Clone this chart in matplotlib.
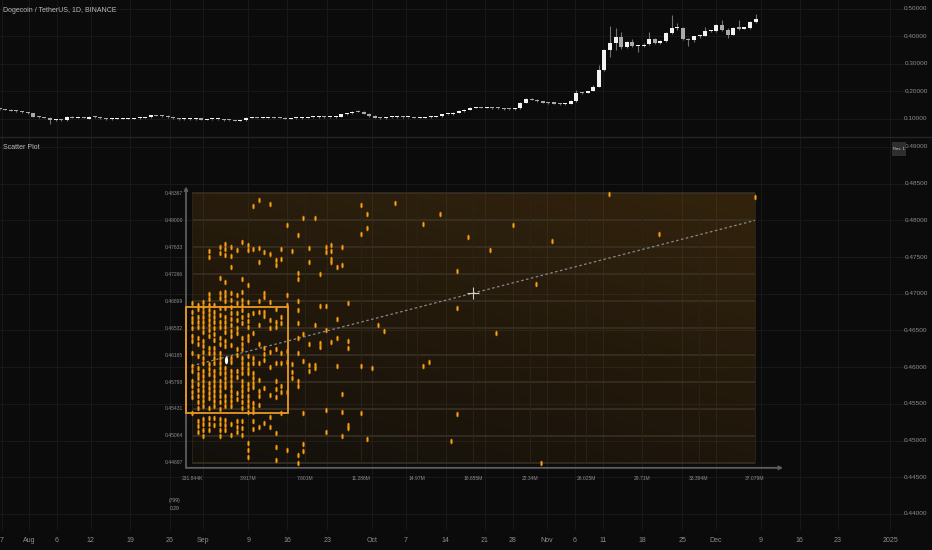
import numpy as np
import matplotlib
matplotlib.use("Agg")
import matplotlib.pyplot as plt  # noqa: E402
from matplotlib.lines import Line2D  # noqa: E402
from matplotlib.patches import Rectangle  # noqa: E402
from matplotlib.path import Path  # noqa: E402
from matplotlib.transforms import Affine2D, blended_transform_factory  # noqa: E402

plt.rcParams["font.family"] = ["Liberation Sans Narrow", "Liberation Sans", "DejaVu Sans"]

BG = "#0b0b0b"
GRID = "#181818"
TXT = "#8e8e8e"
UP = "#f2f2f2"
DOWN = "#a9a9a9"
WICK = "#707070"
ORANGE = "#f5a11c"

# ---- daily candles (DOGE/USDT 1D), bar 0 = first visible day --------------
c_open = [0.136, 0.135, 0.133, 0.130, 0.128, 0.125, 0.121, 0.109, 0.107, 0.105,
          0.095, 0.097, 0.095, 0.108, 0.105, 0.106, 0.101, 0.108, 0.106, 0.102,
          0.100, 0.101, 0.101, 0.101, 0.101, 0.102, 0.105, 0.106, 0.113, 0.112,
          0.111, 0.106, 0.102, 0.100, 0.100, 0.100, 0.102, 0.097, 0.099, 0.099,
          0.099, 0.096, 0.095, 0.094, 0.096, 0.105, 0.105, 0.104, 0.104, 0.106,
          0.105, 0.104, 0.101, 0.102, 0.102, 0.105, 0.106, 0.107, 0.108, 0.106,
          0.106, 0.108, 0.117, 0.120, 0.127, 0.126, 0.119, 0.111, 0.105, 0.102,
          0.106, 0.106, 0.108, 0.106, 0.106, 0.105, 0.105, 0.106, 0.108, 0.110,
          0.117, 0.117, 0.123, 0.129, 0.134, 0.141, 0.142, 0.141, 0.141, 0.140,
          0.139, 0.136, 0.135, 0.140, 0.159, 0.172, 0.170, 0.165, 0.159, 0.158,
          0.156, 0.153, 0.155, 0.166, 0.196, 0.195, 0.202, 0.217, 0.278, 0.351,
          0.377, 0.397, 0.361, 0.380, 0.365, 0.366, 0.371, 0.391, 0.378, 0.384,
          0.411, 0.430, 0.431, 0.392, 0.386, 0.400, 0.402, 0.420, 0.421, 0.440,
          0.425, 0.407, 0.432, 0.429, 0.431, 0.452]
c_close = [0.135, 0.133, 0.130, 0.128, 0.125, 0.121, 0.109, 0.107, 0.105, 0.095,
           0.097, 0.096, 0.108, 0.105, 0.106, 0.104, 0.108, 0.106, 0.102, 0.100,
           0.101, 0.101, 0.101, 0.101, 0.102, 0.105, 0.106, 0.113, 0.112, 0.111,
           0.106, 0.102, 0.100, 0.100, 0.100, 0.100, 0.097, 0.099, 0.099, 0.099,
           0.096, 0.095, 0.094, 0.096, 0.105, 0.105, 0.104, 0.104, 0.106, 0.105,
           0.104, 0.101, 0.102, 0.102, 0.105, 0.106, 0.107, 0.108, 0.106, 0.106,
           0.108, 0.117, 0.120, 0.127, 0.126, 0.119, 0.111, 0.105, 0.102, 0.106,
           0.106, 0.108, 0.106, 0.106, 0.105, 0.105, 0.106, 0.108, 0.110, 0.117,
           0.117, 0.123, 0.129, 0.134, 0.141, 0.142, 0.141, 0.141, 0.140, 0.139,
           0.136, 0.135, 0.139, 0.159, 0.172, 0.170, 0.165, 0.159, 0.158, 0.156,
           0.153, 0.155, 0.166, 0.196, 0.195, 0.200, 0.217, 0.278, 0.351, 0.377,
           0.397, 0.360, 0.380, 0.365, 0.366, 0.370, 0.391, 0.378, 0.383, 0.411,
           0.430, 0.431, 0.392, 0.386, 0.400, 0.402, 0.420, 0.421, 0.440, 0.425,
           0.407, 0.432, 0.429, 0.431, 0.452, 0.462]
c_high = [0.138, 0.137, 0.135, 0.132, 0.130, 0.127, 0.123, 0.111, 0.109, 0.106,
          0.099, 0.099, 0.110, 0.110, 0.108, 0.108, 0.110, 0.110, 0.108, 0.104,
          0.103, 0.103, 0.103, 0.103, 0.104, 0.107, 0.108, 0.115, 0.115, 0.114,
          0.113, 0.108, 0.104, 0.102, 0.102, 0.102, 0.104, 0.101, 0.101, 0.101,
          0.101, 0.098, 0.097, 0.098, 0.107, 0.107, 0.107, 0.106, 0.108, 0.108,
          0.107, 0.106, 0.104, 0.104, 0.107, 0.108, 0.109, 0.110, 0.110, 0.108,
          0.110, 0.119, 0.122, 0.129, 0.131, 0.128, 0.121, 0.113, 0.107, 0.108,
          0.108, 0.110, 0.110, 0.108, 0.108, 0.107, 0.108, 0.110, 0.112, 0.119,
          0.119, 0.125, 0.131, 0.136, 0.143, 0.145, 0.144, 0.143, 0.143, 0.142,
          0.141, 0.138, 0.141, 0.161, 0.175, 0.175, 0.172, 0.167, 0.161, 0.160,
          0.158, 0.157, 0.168, 0.205, 0.199, 0.203, 0.222, 0.296, 0.355, 0.438,
          0.432, 0.416, 0.385, 0.390, 0.370, 0.375, 0.418, 0.395, 0.387, 0.416,
          0.478, 0.450, 0.435, 0.395, 0.403, 0.405, 0.435, 0.425, 0.446, 0.460,
          0.430, 0.436, 0.460, 0.435, 0.458, 0.482]
c_low = [0.133, 0.131, 0.128, 0.126, 0.123, 0.119, 0.107, 0.105, 0.103, 0.082,
         0.093, 0.094, 0.094, 0.103, 0.103, 0.102, 0.099, 0.104, 0.100, 0.098,
         0.098, 0.099, 0.099, 0.099, 0.099, 0.100, 0.103, 0.104, 0.110, 0.109,
         0.104, 0.100, 0.098, 0.098, 0.098, 0.098, 0.095, 0.095, 0.097, 0.097,
         0.094, 0.093, 0.092, 0.092, 0.094, 0.103, 0.102, 0.102, 0.102, 0.103,
         0.102, 0.099, 0.099, 0.100, 0.100, 0.103, 0.104, 0.105, 0.104, 0.104,
         0.104, 0.106, 0.115, 0.118, 0.124, 0.117, 0.109, 0.103, 0.100, 0.100,
         0.104, 0.104, 0.104, 0.104, 0.103, 0.103, 0.103, 0.104, 0.106, 0.108,
         0.115, 0.115, 0.121, 0.127, 0.132, 0.139, 0.139, 0.139, 0.138, 0.137,
         0.134, 0.133, 0.133, 0.138, 0.157, 0.168, 0.163, 0.157, 0.156, 0.154,
         0.151, 0.151, 0.153, 0.163, 0.192, 0.193, 0.200, 0.215, 0.275, 0.327,
         0.352, 0.355, 0.358, 0.360, 0.345, 0.362, 0.368, 0.372, 0.374, 0.380,
         0.408, 0.425, 0.388, 0.365, 0.380, 0.395, 0.400, 0.417, 0.418, 0.420,
         0.393, 0.404, 0.425, 0.426, 0.428, 0.449]

top_price_ticks = [0.1, 0.2, 0.3, 0.4, 0.5]
low_price_ticks = [0.44, 0.445, 0.45, 0.455, 0.46, 0.465, 0.47, 0.475, 0.48, 0.485, 0.49]

# time axis labels, position in bars
date_pos = [0.38, 5.25, 10.2, 16.27, 23.29, 30.43, 36.37, 44.41, 51.38, 58.55,
            66.55, 72.57, 79.66, 86.68, 91.63, 97.7, 102.75, 107.8, 114.8, 121.9,
            127.9, 135.96, 142.9, 149.7, 159.0]
date_labels = ["7", "Aug", "6", "12", "19", "26", "Sep", "9", "16", "23",
               "Oct", "7", "14", "21", "28", "Nov", "6", "11", "18", "25",
               "Dec", "9", "16", "23", "2025"]

# ---- scatter: volume (millions) vs price --------------------------------
col_vol = [0.23, 0.60, 0.96, 1.33, 1.69, 2.05, 2.42, 2.78, 3.15, 3.51,
           3.88, 4.24, 4.61, 4.97, 5.33, 5.70, 6.06, 6.43, 6.79, 7.16,
           7.52, 7.89, 8.25, 8.62, 8.98, 9.34, 9.71, 10.07, 10.44]
col_prices = [
    [0.4687, 0.4675, 0.4667, 0.4662, 0.4653, 0.4643, 0.4636, 0.4619, 0.4602, 0.4595,
     0.4581, 0.4574, 0.4566, 0.4559, 0.4538],
    [0.4685, 0.4679, 0.4668, 0.4662, 0.4655, 0.4640, 0.4632, 0.4615, 0.4599, 0.4591,
     0.4585, 0.4577, 0.4569, 0.4561, 0.4553, 0.4544, 0.4527, 0.4520, 0.4512],
    [0.4689, 0.4682, 0.4675, 0.4668, 0.4662, 0.4655, 0.4648, 0.4636, 0.4629, 0.4621,
     0.4613, 0.4606, 0.4595, 0.4588, 0.4581, 0.4574, 0.4568, 0.4561, 0.4554, 0.4547,
     0.4529, 0.4523, 0.4514, 0.4506],
    [0.4758, 0.4750, 0.4700, 0.4693, 0.4685, 0.4678, 0.4671, 0.4664, 0.4657, 0.4651,
     0.4643, 0.4626, 0.4619, 0.4604, 0.4598, 0.4591, 0.4578, 0.4572, 0.4565, 0.4558,
     0.4544, 0.4531, 0.4523, 0.4514],
    [0.4685, 0.4675, 0.4668, 0.4662, 0.4653, 0.4645, 0.4637, 0.4626, 0.4619, 0.4613,
     0.4606, 0.4595, 0.4588, 0.4581, 0.4574, 0.4568, 0.4561, 0.4554, 0.4547, 0.4531,
     0.4521],
    [0.4764, 0.4756, 0.4722, 0.4701, 0.4694, 0.4681, 0.4671, 0.4662, 0.4655, 0.4640,
     0.4632, 0.4619, 0.4613, 0.4606, 0.4599, 0.4592, 0.4581, 0.4574, 0.4568, 0.4561,
     0.4553, 0.4543, 0.4529, 0.4523, 0.4514, 0.4506],
    [0.4768, 0.4761, 0.4753, 0.4716, 0.4702, 0.4697, 0.4690, 0.4681, 0.4668, 0.4662,
     0.4655, 0.4648, 0.4636, 0.4629, 0.4599, 0.4592, 0.4585, 0.4578, 0.4573, 0.4561,
     0.4554, 0.4547, 0.4528, 0.4521, 0.4514],
    [0.4764, 0.4751, 0.4737, 0.4701, 0.4692, 0.4682, 0.4674, 0.4666, 0.4657, 0.4649,
     0.4643, 0.4630, 0.4613, 0.4607, 0.4595, 0.4588, 0.4581, 0.4574, 0.4568, 0.4561,
     0.4554, 0.4547, 0.4523, 0.4508],
    [0.4760, 0.4698, 0.4687, 0.4674, 0.4664, 0.4653, 0.4647, 0.4625, 0.4617, 0.4595,
     0.4587, 0.4565, 0.4557, 0.4527, 0.4519, 0.4512],
    [0.4771, 0.4720, 0.4702, 0.4692, 0.4685, 0.4678, 0.4668, 0.4660, 0.4640, 0.4632,
     0.4625, 0.4613, 0.4606, 0.4599, 0.4592, 0.4581, 0.4574, 0.4568, 0.4561, 0.4553,
     0.4544, 0.4527, 0.4517, 0.4508],
    [0.4766, 0.4760, 0.4712, 0.4689, 0.4671, 0.4663, 0.4655, 0.4643, 0.4637, 0.4615,
     0.4604, 0.4598, 0.4592, 0.4577, 0.4570, 0.4561, 0.4554, 0.4547, 0.4539, 0.4497,
     0.4487, 0.4478],
    [0.4820, 0.4761, 0.4674, 0.4647, 0.4613, 0.4606, 0.4592, 0.4585, 0.4578, 0.4573,
     0.4551, 0.4545, 0.4539, 0.4527, 0.4516],
    [0.4828, 0.4762, 0.4743, 0.4690, 0.4675, 0.4657, 0.4632, 0.4606, 0.4583, 0.4568,
     0.4561, 0.4549, 0.4519],
    [0.4757, 0.4701, 0.4696, 0.4675, 0.4670, 0.4626, 0.4618, 0.4610, 0.4572, 0.4524],
    [0.4822, 0.4754, 0.4689, 0.4664, 0.4653, 0.4621, 0.4600, 0.4562, 0.4532, 0.4519],
    [0.4746, 0.4739, 0.4679, 0.4662, 0.4655, 0.4625, 0.4606, 0.4581, 0.4570, 0.4559,
     0.4510, 0.4491, 0.4474],
    [0.4761, 0.4747, 0.4668, 0.4660, 0.4619, 0.4606, 0.4574, 0.4566, 0.4538],
    [0.4794, 0.4698, 0.4685, 0.4622, 0.4607, 0.4566, 0.4487],
    [0.4758, 0.4604, 0.4593, 0.4585],
    [0.4780, 0.4728, 0.4720, 0.4690, 0.4678, 0.4660, 0.4640, 0.4619, 0.4581, 0.4574,
     0.4480, 0.4470],
    [0.4803, 0.4645, 0.4608, 0.4538, 0.4495, 0.4486],
    [0.4762, 0.4743, 0.4632, 0.4603, 0.4595],
    [0.4803, 0.4657, 0.4603, 0.4599],
    [0.4727, 0.4683, 0.4633, 0.4628],
    [0.4764, 0.4757, 0.4683, 0.4651, 0.4542, 0.4512],
    [0.4766, 0.4758, 0.4747, 0.4743, 0.4634],
    [0.4737, 0.4666, 0.4640, 0.4602],
    [0.4764, 0.4739, 0.4563, 0.4539, 0.4506],
    [0.4687, 0.4636, 0.4626, 0.4521, 0.4517],
]
lone_vol = [11.31, 11.31, 11.31, 11.31, 11.66, 11.66, 11.66, 12.03, 12.39, 12.78,
            13.52, 15.35, 15.35, 15.72, 16.44, 17.18, 17.56, 17.56, 17.56, 18.30,
            19.76, 20.13, 21.24, 22.73, 23.08, 23.81, 27.50, 30.82, 37.08]
lone_price = [0.4821, 0.4782, 0.4601, 0.4538, 0.4809, 0.4789, 0.4502, 0.4599, 0.4657, 0.4649,
              0.4824, 0.4795, 0.4601, 0.4607, 0.4809, 0.4499, 0.4731, 0.4681, 0.4536, 0.4777,
              0.4760, 0.4647, 0.4794, 0.4713, 0.4469, 0.4772, 0.4836, 0.4782, 0.4832]

vol_ticks = [0.231844, 3.917, 7.601, 11.286, 14.97, 18.655, 22.34, 26.025, 29.71, 33.394, 37.079]
vol_labels = ["231.844K", "3.917M", "7.601M", "11.286M", "14.97M", "18.655M",
              "22.34M", "26.025M", "29.71M", "33.394M", "37.079M"]
px_ticks = [0.44697, 0.45064, 0.45431, 0.45798, 0.46165, 0.46532,
            0.46899, 0.47266, 0.47633, 0.48000, 0.48367]

reg_vol = [0.231844, 37.079]
reg_price = [0.4602, 0.4800]
center_vol, center_price = 18.655, 0.4701
last_vol, last_price = 2.44, 0.4610
box_vol = (-0.16, 6.50)
box_price = (0.4538, 0.4682)
stat_lines = ["(799)", "0.29"]

# ---- layout (pixels of a 932x550 canvas) ----------------------------------
W, H = 932, 550
fig = plt.figure(figsize=(W / 100, H / 100), dpi=100, facecolor=BG)


def band(top_px, bottom_px):
    return [0, 1 - bottom_px / H, 1, (bottom_px - top_px) / H]


ax1 = fig.add_axes(band(0, 137))
ax2 = fig.add_axes(band(137, 530))
ax3 = fig.add_axes(band(137, 530))

for ax in (ax1, ax2, ax3):
    for s in ax.spines.values():
        s.set_visible(False)
    ax.tick_params(left=False, bottom=False, labelleft=False, labelbottom=False)
ax1.set_facecolor(BG)
ax2.set_facecolor(BG)
ax3.set_facecolor("none")

bar_lim = (0.07, 166.5)
ax1.set_xlim(*bar_lim)
ax1.set_ylim(0.0345, 0.5327)
ax2.set_xlim(*bar_lim)
ax2.set_ylim(0.43782, 0.49136)
ax3.set_xlim(-12.334, 48.663)
ax3.set_ylim(0.43782, 0.49136)

# pane grids + price scale
for ax, ticks in ((ax1, top_price_ticks), (ax2, low_price_ticks)):
    for d in date_pos:
        ax.axvline(d, color=GRID, lw=0.8, zorder=0)
    tr = blended_transform_factory(ax.transAxes, ax.transData)
    for p in ticks:
        ax.axhline(p, xmin=0, xmax=907 / W, color=GRID, lw=0.8, zorder=0)
        ax.text(916 / W, p, f"{p:.5f}", transform=tr, ha="center", va="center",
                fontsize=4.6, color=TXT)

# candles
o, hi, lo, c = (np.array(a) for a in (c_open, c_high, c_low, c_close))
idx = np.arange(len(c))
up = c >= o
ax1.vlines(idx, lo, hi, color=WICK, lw=0.8, zorder=2)
ax1.bar(idx, np.maximum(np.abs(c - o), 0.004), bottom=np.minimum(o, c), width=0.72,
        color=np.where(up, UP, DOWN), lw=0, zorder=3)

# date axis
ax2.set_xticks(date_pos)
ax2.set_xticklabels(date_labels)
ax2.tick_params(axis="x", labelbottom=True, length=0, pad=5.2, labelsize=5, labelcolor=TXT)

# ---- scatter panel ---------------------------------------------------------
v0, v1 = vol_ticks[0], vol_ticks[-1]
p0, p1 = px_ticks[0], px_ticks[-1]

ny, nx = 64, 64
ty = np.linspace(0, 1, ny)[:, None]
tx = np.linspace(0, 1, nx)[None, :]
grad = np.zeros((ny, nx, 4))
grad[..., 0], grad[..., 1], grad[..., 2] = 1.0, 0.62, 0.08
grad[..., 3] = 0.035 + 0.085 * ty + 0.045 * tx
ax3.imshow(grad, extent=[v0, v1, p0, p1], origin="lower", aspect="auto",
           interpolation="bilinear", zorder=0)

ax3.hlines(px_ticks, v0, v1, color="#3a3224", lw=1.1, zorder=1)
ax3.vlines(vol_ticks, p0, p1, color="#2a2418", lw=0.7, zorder=1)


def nudge(v, p, dx, dy):
    """Shift a data point by screen pixels (dy positive = down)."""
    disp = ax3.transData.transform((v, p)) + np.array([dx, -dy])
    return tuple(ax3.transData.inverted().transform(disp))


origin = nudge(v0, p0, -6, 5)
x_end = nudge(v1, p0, 28, 5)
y_end = nudge(v0, p1, -6, -7)
arrow = dict(arrowstyle="->", color="#5e5e5e", lw=1.3, shrinkA=0, shrinkB=0,
             mutation_scale=5)
ax3.annotate("", xy=x_end, xytext=origin, arrowprops=arrow, zorder=2)
ax3.annotate("", xy=y_end, xytext=origin, arrowprops=arrow, zorder=2)

for p in px_ticks:
    ax3.annotate(f"{p:.5f}", (v0, p), xytext=(-9, 0), textcoords="offset pixels",
                 ha="right", va="center", fontsize=3.6, color=TXT)
for v, lab in zip(vol_ticks, vol_labels):
    ax3.annotate(lab, (v, p0), xytext=(0, -16), textcoords="offset pixels",
                 ha="center", va="center", fontsize=3.6, color=TXT)
for k, s in enumerate(stat_lines):
    ax3.annotate(s, (v0, p0), xytext=(-17, -38 - 8 * k), textcoords="offset pixels",
                 ha="center", va="center", fontsize=3.6, color="#9a9a9a")

ax3.plot(reg_vol, reg_price, ls=(0, (2, 2)), color="#8a8a8a", lw=0.9, zorder=3)

oval = Path.unit_circle().transformed(Affine2D().scale(0.42, 1.0))
xs = np.concatenate([np.full(len(ps), v) for v, ps in zip(col_vol, col_prices)] + [lone_vol])
ys = np.concatenate([np.array(ps) for ps in col_prices] + [lone_price])
ax3.scatter(xs, ys, marker=oval, s=14, c=ORANGE, edgecolors="#a86200",
            linewidths=0.3, zorder=4)

ax3.add_patch(Rectangle((box_vol[0], box_price[0]), box_vol[1] - box_vol[0],
                        box_price[1] - box_price[0], fill=False, ec="#e89a26",
                        lw=1.3, zorder=5))
ax3.scatter([last_vol], [last_price], marker=oval, s=30, c="white", lw=0, zorder=6)
ax3.plot(center_vol, center_price, marker="+", ms=9, mew=0.8, color="#cfcfcf", zorder=6)

# ---- chrome ------------------------------------------------------------------
fig.add_artist(Line2D([0, 1], [1 - 136.5 / H] * 2, color="#22252c", lw=1.0))
fig.text(3 / W, 1 - 11 / H, "Dogecoin / TetherUS, 1D, BINANCE", ha="left", va="center",
         fontsize=5.0, color="#bdbdbd")
fig.text(3 / W, 1 - 147 / H, "Scatter Plot", ha="left", va="center",
         fontsize=5.0, color="#bdbdbd")
# "Res" button: 13x13 px box at (892, 142) from the top-left
fig.add_artist(Rectangle((892 / W, 1 - 155 / H), 13 / W, 13 / H, transform=fig.transFigure,
                         fc="#2e2e2e", ec="#3a3a3a", lw=0.5))
fig.text(898.5 / W, 1 - 148.5 / H, "Res: 1", ha="center", va="center", fontsize=3.0,
         color="#d0d0d0")

fig.savefig("out.png", dpi=100, facecolor=BG)
